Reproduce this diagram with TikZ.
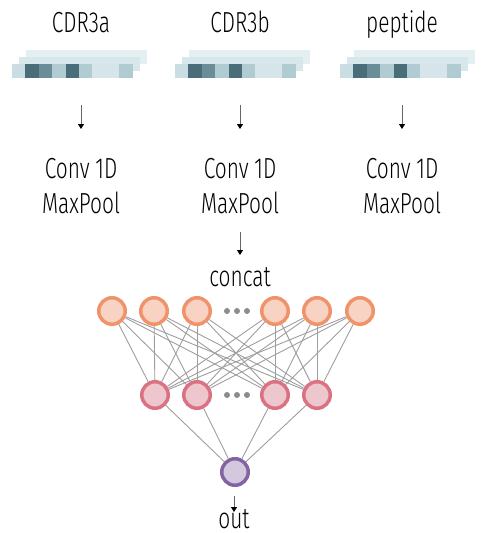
\documentclass[tikz,border=0pt]{standalone}
\usepackage{fontspec}
\setmainfont{Fira Sans}[UprightFont=* Light, FakeStretch=0.72]
\usepackage{tikz}
\usetikzlibrary{positioning,arrows.meta}
\usepackage{xcolor}
\definecolor{seqdark}{HTML}{4A6D7A}
\definecolor{seqmid}{HTML}{6B8D98}
\definecolor{seqlight}{HTML}{B1CBD3}
\definecolor{seqpale}{HTML}{C9DDE3}
\definecolor{seqfaint}{HTML}{D5E5EA}
\definecolor{seqback}{HTML}{E4EFF2}
\definecolor{seqbackb}{HTML}{D8E7EC}
\definecolor{inpfill}{HTML}{F8D3C3}
\definecolor{inpdraw}{HTML}{F0936B}
\definecolor{hidfill}{HTML}{EEC6CE}
\definecolor{hiddraw}{HTML}{D97384}
\definecolor{outfill}{HTML}{D3C8DE}
\definecolor{outdraw}{HTML}{8463A3}
\definecolor{edgegray}{HTML}{9E9E9E}

% one-hot style sequence stack, #1 = left edge of front row
\newcommand{\seqbar}[1]{%
  \fill[seqback] (#1+14,50) rectangle ++(121,14);
  \fill[seqbackb] (#1+7,57) rectangle ++(121,14);
  \foreach \c [count=\k from 0] in {seqpale,seqdark,seqmid,seqlight,seqdark,seqlight,seqfaint,seqfaint,seqlight}
    \fill[\c] (#1+\k*13.4,64) rectangle ++(13.4,14);
}

\begin{document}
\begin{tikzpicture}[
    x=1pt, y=-1pt,
    lbl/.style={inner sep=0pt, font=\fontsize{29}{35}\selectfont},
    arrow/.style={-{Triangle[length=5pt,width=6pt,color=black]}, draw=black!60, line width=0.9pt},
    unit/.style={circle, minimum size=26.5pt, inner sep=0pt, line width=3.5pt},
    inp/.style={unit, fill=inpfill, draw=inpdraw},
    hid/.style={unit, fill=hidfill, draw=hiddraw},
    outn/.style={unit, fill=outfill, draw=outdraw},
    edge/.style={draw=edgegray, line width=0.9pt}
]
  \useasboundingbox (0,0) rectangle (480,533);

  % Inputs
  \node[lbl, anchor=base] (lbla) at (81,32) {CDR3a};
  \node[lbl, anchor=base] (lblb) at (240,32) {CDR3b};
  \node[lbl, anchor=base] (lblp) at (402,32) {peptide};
  \seqbar{12}
  \seqbar{175}
  \seqbar{340}

  % Convolution blocks
  \node[lbl, align=center, anchor=north] (conva) at (81,158) {Conv 1D\\MaxPool};
  \node[lbl, align=center, anchor=north] (convb) at (240,158) {Conv 1D\\MaxPool};
  \node[lbl, align=center, anchor=north] (convp) at (402,158) {Conv 1D\\MaxPool};
  \node[lbl, anchor=base] (concat) at (240,286) {concat};

  \coordinate (sa) at (81,105);  \coordinate (ca) at (81,129);
  \coordinate (sb) at (240,105); \coordinate (cb) at (240,129);
  \coordinate (sp) at (402,105); \coordinate (cp) at (402,129);
  \coordinate (mb) at (240,232); \coordinate (cc) at (240,255);
  \draw[arrow] (sa) -- (ca);
  \draw[arrow] (sb) -- (cb);
  \draw[arrow] (sp) -- (cp);
  \draw[arrow] (mb) -- (cc);

  % Dense layers
  \node[inp] (in1) at (112,311) {};
  \node[inp] (in2) at (154,311) {};
  \node[inp] (in3) at (197,311) {};
  \node[inp] (in4) at (275,311) {};
  \node[inp] (in5) at (317,311) {};
  \node[inp] (in6) at (360,311) {};
  \node[hid] (hid1) at (155,395) {};
  \node[hid] (hid2) at (197,395) {};
  \node[hid] (hid3) at (275,395) {};
  \node[hid] (hid4) at (317,395) {};
  \node[outn] (out) at (235,472) {};

  \foreach \i in {1,...,6}
    \foreach \j in {1,...,4}
      \draw[edge] (in\i) -- (hid\j);
  \foreach \j in {1,...,4}
    \draw[edge] (hid\j) -- (out);

  \foreach \dx in {-10,0,10} {
    \fill[black!45] (237+\dx,311) circle (3);
    \fill[black!45] (237+\dx,395) circle (3);
  }

  % Output
  \coordinate (oa) at (234,496); \coordinate (ob) at (234,512);
  \draw[arrow] (oa) -- (ob);
  \node[lbl, anchor=base] (outlbl) at (234,528) {out};
\end{tikzpicture}
\end{document}
